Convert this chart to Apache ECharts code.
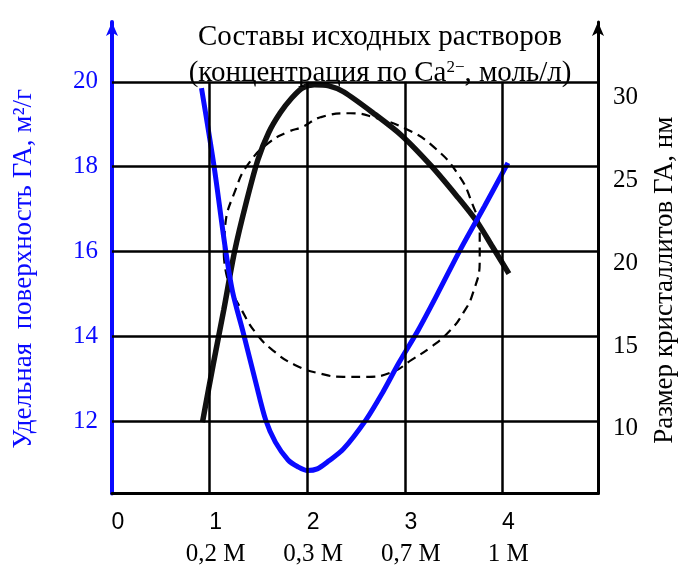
<!DOCTYPE html>
<html><head><meta charset="utf-8">
<script src="https://cdn.jsdelivr.net/npm/echarts@6/dist/echarts.min.js"></script>
<style>html,body{margin:0;padding:0;background:#fff}#c{width:686px;height:567px}</style>
</head><body><div id="c"></div>
<script>
// ---- data ----
const xTicks = [0, 1, 2, 3, 4];
const xSubLabels = ['', '0,2 M', '0,3 M', '0,7 M', '1 M'];
const leftTicks = [12, 14, 16, 18, 20];
const rightTicks = [10, 15, 20, 25, 30];

// specific surface (left axis, m2/g)
const surfaceX = [0.917, 1.047, 1.156, 1.236, 1.346, 1.475, 1.575, 1.674, 1.804, 1.904, 2.003, 2.103, 2.223, 2.372, 2.601, 2.771, 2.940, 3.140, 3.339, 3.568, 3.817, 4.057];
const surfaceY = [19.85, 17.99, 16.16, 15.05, 14.08, 12.90, 12.03, 11.51, 11.09, 10.93, 10.84, 10.88, 11.07, 11.35, 12.03, 12.67, 13.38, 14.16, 15.02, 16.04, 17.07, 18.09];

// crystallite size (right axis, nm)
const sizeX = [0.927, 1.037, 1.146, 1.256, 1.375, 1.495, 1.605, 1.724, 1.844, 1.954, 2.073, 2.223, 2.372, 2.701, 2.970, 3.269, 3.538, 3.738, 3.897, 4.067];
const sizeY = [10.40, 13.89, 17.20, 20.70, 23.65, 26.24, 27.87, 29.07, 29.98, 30.58, 30.76, 30.70, 30.34, 28.95, 27.69, 25.88, 24.01, 22.51, 21.00, 19.37];

// dashed closed contour (left axis units)
const contourX = [1.146, 1.156, 1.276, 1.405, 1.605, 1.804, 1.954, 2.143, 2.442, 2.701, 3.040, 3.299, 3.538, 3.688, 3.768, 3.768, 3.698, 3.598, 3.469, 3.269, 3.070, 2.870, 2.601, 2.372, 2.143, 1.874, 1.645, 1.475, 1.346, 1.196, 1.146];
const contourY = [15.92, 16.51, 17.52, 18.09, 18.56, 18.82, 18.94, 19.17, 19.26, 19.15, 18.86, 18.46, 17.85, 17.15, 16.44, 15.80, 15.02, 14.55, 14.15, 13.75, 13.45, 13.16, 13.05, 13.05, 13.12, 13.33, 13.68, 14.08, 14.55, 15.26, 15.92];

const X_MIN = 0, X_MAX = 4.98;
const L_MIN = 10.3, L_MAX = 21.41;
const R_MIN = 6.1, R_MAX = 34.55;

const pairs = (xs, ys) => xs.map((x, i) => [x, ys[i]]);
const BLUE = '#0a0aff';
const SERIF = '"Liberation Serif", "Times New Roman", serif';
const SANS = '"Liberation Sans", Arial, sans-serif';

const gridLines = [
  ...leftTicks.map(v => [{coord: [X_MIN, v]}, {coord: [X_MAX, v]}]),
  ...xTicks.slice(1).map(x => [{coord: [x, leftTicks[leftTicks.length - 1]]}, {coord: [x, L_MIN]}])
];

const chart = echarts.init(document.getElementById('c'));
chart.setOption({
  animation: false,
  backgroundColor: '#fff',
  title: {
    left: 375, top: 14, textAlign: 'center',
    text: '{t|Составы исходных растворов}\n{t|(концентрация по Ca}{s|2−}{t|, моль/л)}',
    textStyle: {
      fontWeight: 'normal',
      rich: {
        t: {fontFamily: SERIF, fontSize: 29, fontWeight: 'normal', lineHeight: 36, color: '#000'},
        s: {fontFamily: SERIF, fontSize: 17, fontWeight: 'normal', lineHeight: 36, color: '#000', verticalAlign: 'top', padding: [4, 0, 0, 0]}
      }
    }
  },
  grid: {left: 112, right: 74, top: 22, bottom: 73, containLabel: false},
  xAxis: {
    type: 'value', min: X_MIN, max: X_MAX,
    axisLine: {show: true, onZero: false, lineStyle: {color: '#000', width: 3}},
    axisTick: {show: false}, splitLine: {show: false},
    axisLabel: {
      customValues: xTicks, margin: 14, padding: [0, 0, 0, 12],
      formatter: (v) => {
        const i = xTicks.indexOf(v);
        const sub = xSubLabels[i];
        return '{n|' + v + '}' + (sub ? '\n{m|' + sub + '}' : '');
      },
      rich: {
        n: {fontFamily: SANS, fontSize: 23, lineHeight: 30, color: '#000'},
        m: {fontFamily: SERIF, fontSize: 25, lineHeight: 34, color: '#000'}
      }
    }
  },
  yAxis: [
    {
      type: 'value', position: 'left', min: L_MIN, max: L_MAX,
      axisLine: {show: true, onZero: false, symbol: ['none', 'arrow'], symbolSize: [9, 14], lineStyle: {color: BLUE, width: 4}},
      axisTick: {show: false}, splitLine: {show: false},
      axisLabel: {customValues: leftTicks, color: BLUE, fontFamily: SERIF, fontSize: 25, margin: 14, padding: [10, 0, 0, 0]},
      name: 'Удельная  поверхность ГА, м²/г', nameLocation: 'middle', nameRotate: 90, nameGap: 75,
      nameTextStyle: {color: BLUE, fontFamily: SERIF, fontSize: 27, padding: [0, 22, 0, 0]}
    },
    {
      type: 'value', position: 'right', min: R_MIN, max: R_MAX,
      axisLine: {show: true, onZero: false, symbol: ['none', 'arrow'], symbolSize: [9, 14], lineStyle: {color: '#000', width: 3}},
      axisTick: {show: false}, splitLine: {show: false},
      axisLabel: {customValues: rightTicks, color: '#000', fontFamily: SERIF, fontSize: 25, margin: 15},
      name: 'Размер кристаллитов ГА, нм', nameLocation: 'middle', nameRotate: 90, nameGap: 53,
      nameTextStyle: {color: '#000', fontFamily: SERIF, fontSize: 27, padding: [0, 45, 0, 0]}
    }
  ],
  series: [
    {
      type: 'line', yAxisIndex: 0, z: 1, silent: true,
      data: [[X_MIN, L_MIN]], showSymbol: false, lineStyle: {width: 0},
      markLine: {
        silent: true, symbol: ['none', 'none'], label: {show: false},
        lineStyle: {color: '#000', width: 2.5, type: 'solid'},
        emphasis: {disabled: true},
        data: gridLines
      }
    },
    {
      type: 'line', yAxisIndex: 0, z: 2, data: pairs(contourX, contourY),
      smooth: 0.5, showSymbol: false,
      lineStyle: {color: '#000', width: 2.2, type: [9, 6]}
    },
    {
      type: 'line', yAxisIndex: 1, z: 3, data: pairs(sizeX, sizeY),
      smooth: 0.3, showSymbol: false,
      lineStyle: {color: '#111', width: 5.5}
    },
    {
      type: 'line', yAxisIndex: 0, z: 4, data: pairs(surfaceX, surfaceY),
      smooth: 0.3, showSymbol: false,
      lineStyle: {color: BLUE, width: 5}
    }
  ]
});
</script></body></html>
